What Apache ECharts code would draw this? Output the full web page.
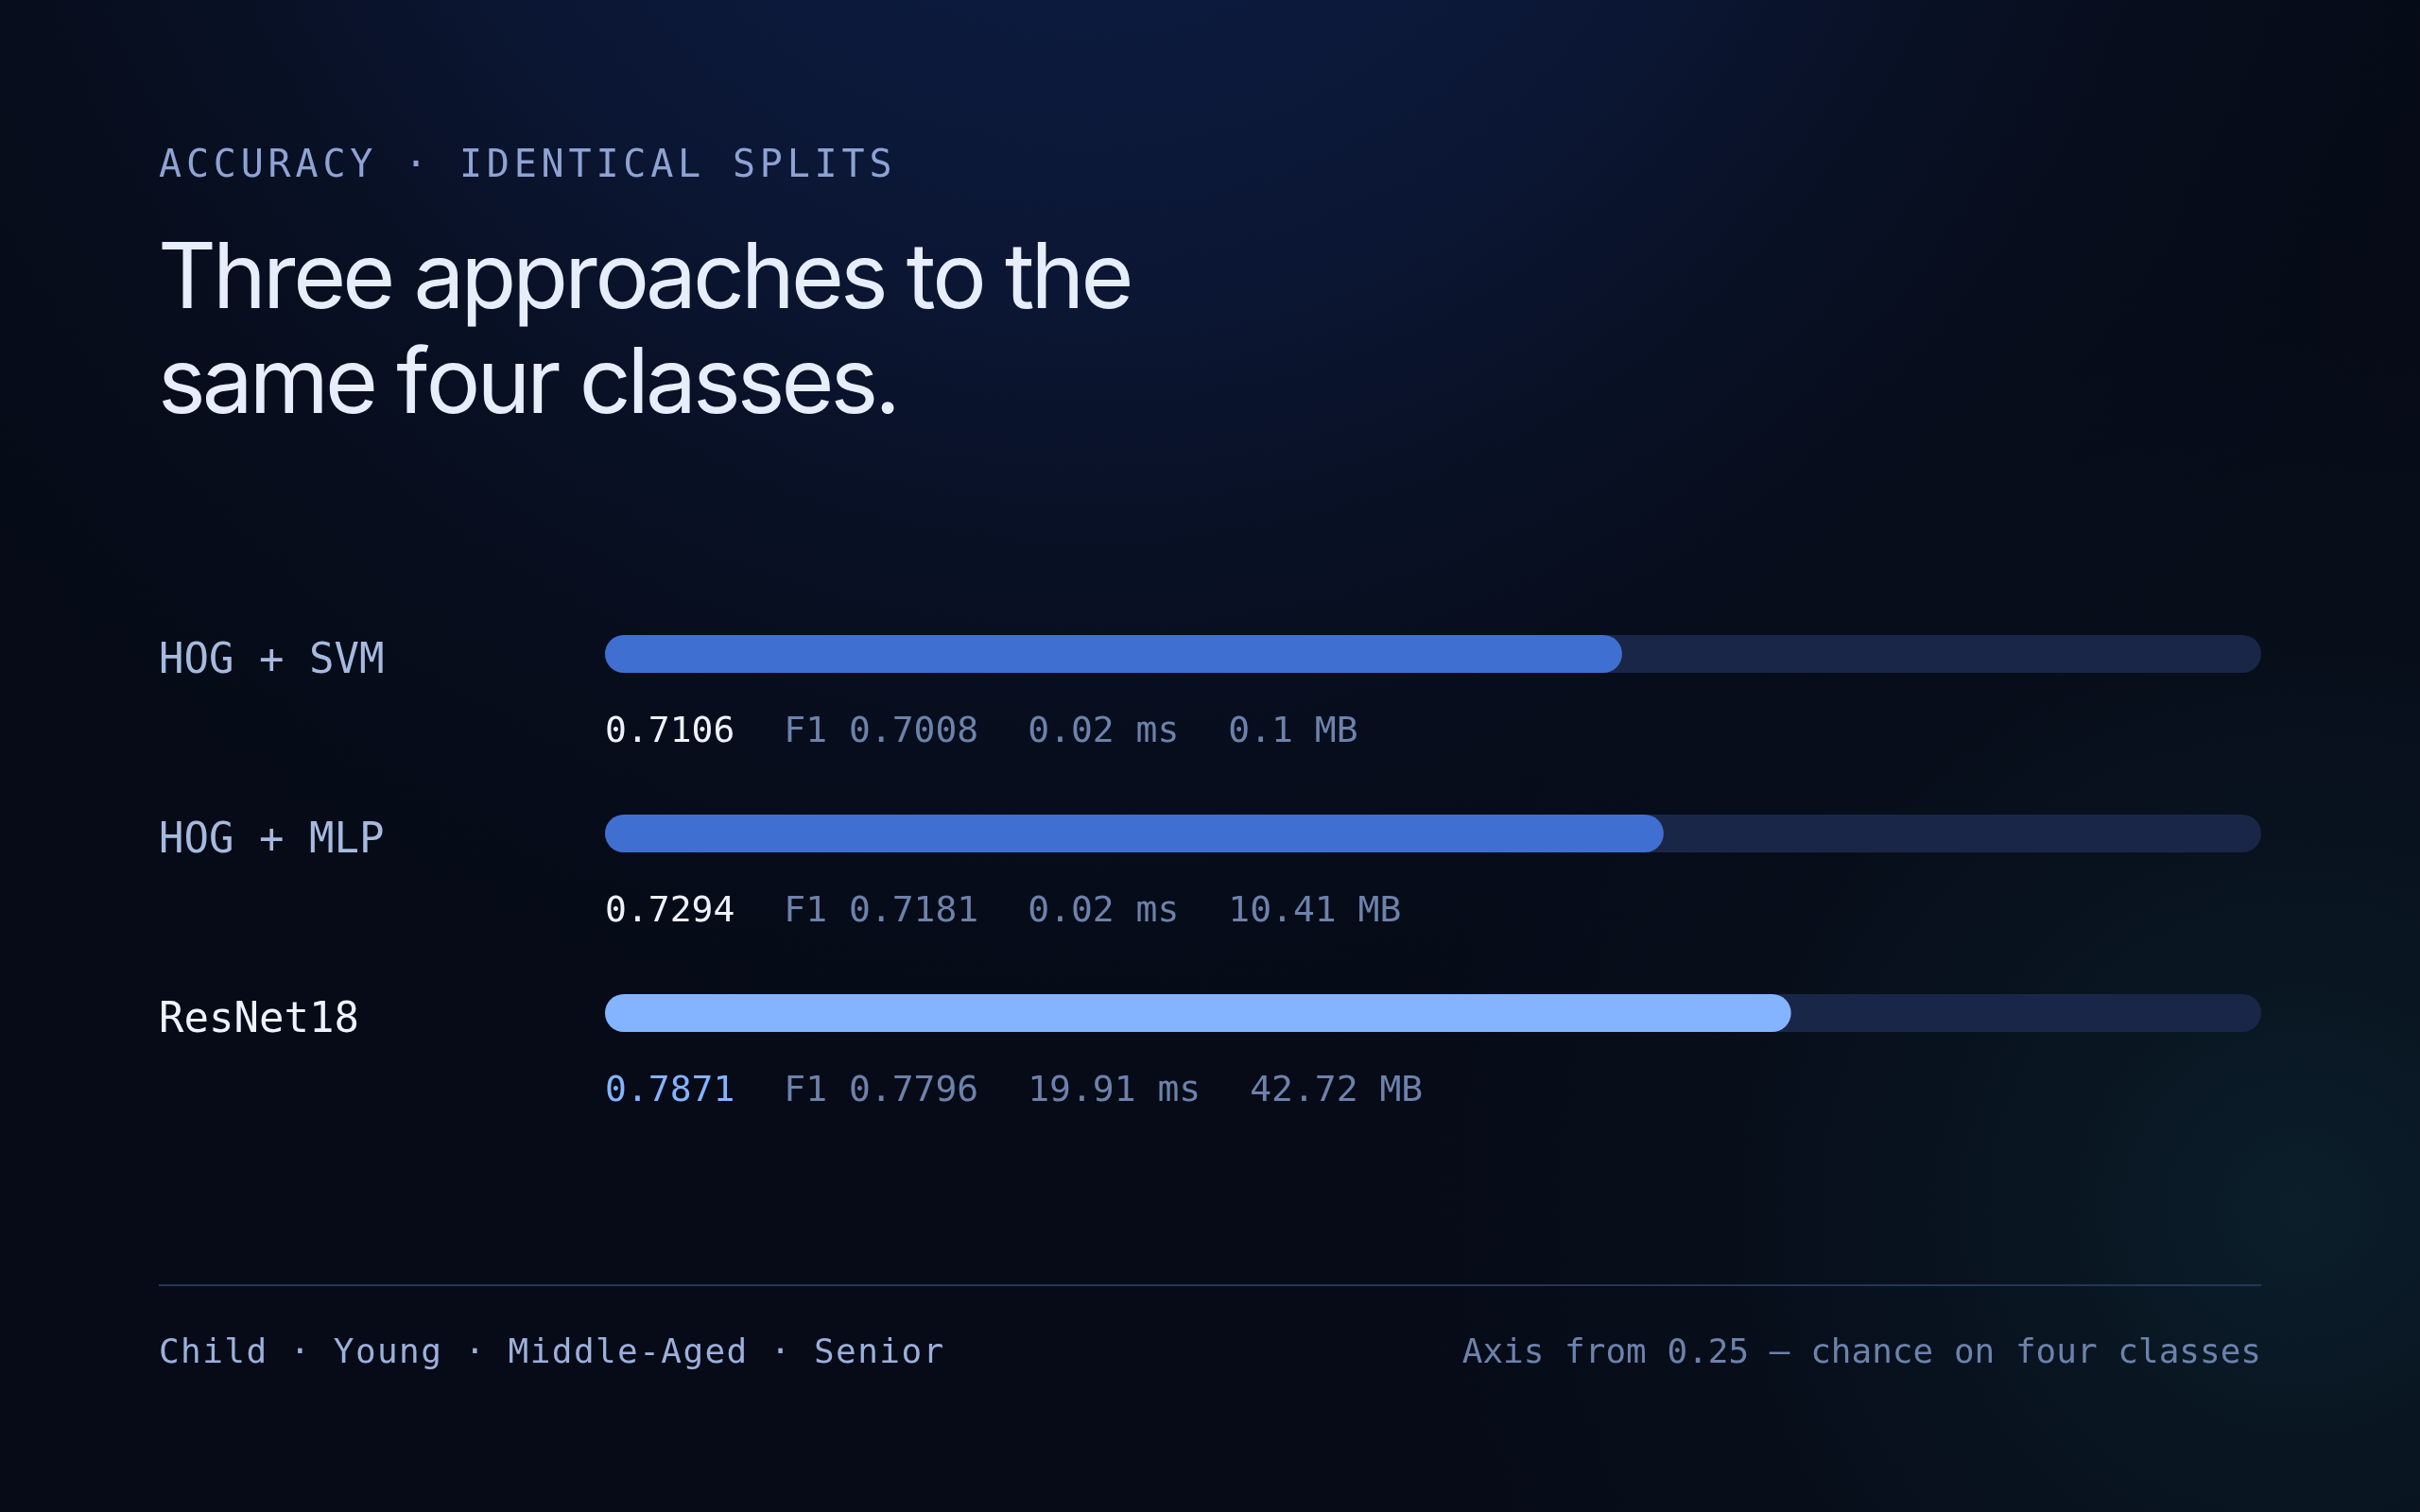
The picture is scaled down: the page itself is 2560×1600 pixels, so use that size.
<!DOCTYPE html>
<html><head><meta charset="utf-8">
<script src="https://cdn.jsdelivr.net/npm/echarts@6/dist/echarts.min.js"></script>
<style>html,body{margin:0;padding:0;background:#060b17;overflow:hidden}#c{width:2560px;height:1600px;}</style>
</head><body><div id="c"></div>
<script>
// ---- data ----
const models = ['HOG + SVM', 'HOG + MLP', 'ResNet18'];
const accuracy = [0.7106, 0.7294, 0.7871];
const f1 = [0.7008, 0.7181, 0.7796];
const latencyMs = [0.02, 0.02, 19.91];
const sizeMB = [0.1, 10.41, 42.72];
const classes = ['Child', 'Young', 'Middle-Aged', 'Senior'];
const axisMin = 0.25, axisMax = 1.0;
const eyebrow = 'ACCURACY · IDENTICAL SPLITS';
const titleLines = ['Three approaches to the', 'same four classes.'];
const footnote = 'Axis from 0.25 — chance on four classes';

// ---- build ----
const MONO = 'DejaVu Sans Mono';
const best = accuracy.indexOf(Math.max.apply(null, accuracy));
function spaced(str, style) {
  return str.split('').map(ch => '{' + style + '|' + ch + '}').join('');
}
// tight-tracked proportional text: one rich token per glyph
const mctx = document.createElement('canvas').getContext('2d');
function tracked(lines, font, size, weight, color, track) {
  mctx.font = weight + ' ' + size + 'px ' + font;
  const rich = {};
  const keys = {};
  let n = 0;
  const texts = lines.map(line => line.split('').map(ch => {
    if (!(ch in keys)) {
      const k = 't' + (n++);
      keys[ch] = k;
      rich[k] = {fontFamily: font, fontSize: size, fontWeight: weight, fill: color, color: color,
        width: mctx.measureText(ch).width + track};
    }
    return '{' + keys[ch] + '|' + ch + '}';
  }).join(''));
  return {texts, rich};
}
const T = tracked(titleLines, 'Inter', 96, 400, '#e6edfb', -3.9);

const chart = echarts.init(document.getElementById('c'), null, {renderer: 'canvas'});
const option = {
  backgroundColor: '#060b17',
  animation: false,
  grid: {left: 640, right: 168, top: 597, height: 570, containLabel: false},
  xAxis: {type: 'value', min: axisMin, max: axisMax, show: false},
  yAxis: {
    type: 'category', data: models, inverse: true,
    axisLine: {show: false}, axisTick: {show: false}, splitLine: {show: false},
    axisLabel: {
      margin: 472, align: 'left', verticalAlign: 'middle',
      formatter: (v, i) => (i === best ? '{hi|' : '{lo|') + v + '}',
      rich: {
        hi: {fontFamily: MONO, fontSize: 44, color: '#eef3ff', padding: [17, 0, 0, 0]},
        lo: {fontFamily: MONO, fontSize: 44, color: '#a6badf', padding: [17, 0, 0, 0]}
      }
    }
  },
  series: [{
    type: 'bar', silent: true,
    data: accuracy.map((v, i) => ({value: v, itemStyle: {color: i === best ? '#84b4ff' : '#3f6fd1'}})),
    barWidth: 40,
    showBackground: true,
    backgroundStyle: {color: '#1a2648', borderRadius: 20},
    itemStyle: {borderRadius: 20},
    label: {
      show: true, position: [0, 103], align: 'left', verticalAlign: 'middle',
      formatter: p => {
        const i = p.dataIndex;
        return (i === best ? '{acchi|' : '{acc|') + String(accuracy[i]) + '}{g| }' +
          '{m|F1 ' + String(f1[i]) + '}{g| }' +
          '{m|' + String(latencyMs[i]) + ' ms}{g| }' +
          '{m|' + String(sizeMB[i]) + ' MB}';
      },
      rich: {
        acc: {fontFamily: MONO, fontSize: 38, color: '#eef3ff'},
        acchi: {fontFamily: MONO, fontSize: 38, color: '#84b4ff'},
        m: {fontFamily: MONO, fontSize: 38, color: '#6d82ab'},
        g: {fontFamily: MONO, fontSize: 38, width: 52}
      }
    }
  }],
  graphic: [
    {type: 'rect', z: -10, silent: true, shape: {x: 0, y: 0, width: 2560, height: 1600},
      style: {fill: {type: 'radial', x: 0.45, y: -0.25, r: 1.0, colorStops: [
        {offset: 0, color: 'rgba(15,32,76,1)'}, {offset: 0.45, color: 'rgba(12,25,58,0.8)'}, {offset: 1, color: 'rgba(6,11,23,0)'}]}}},
    {type: 'rect', z: -9, silent: true, shape: {x: 0, y: 0, width: 2560, height: 1600},
      style: {fill: {type: 'radial', x: 0.95, y: 0.8, r: 0.65, colorStops: [
        {offset: 0, color: 'rgba(12,34,46,0.85)'}, {offset: 1, color: 'rgba(6,11,23,0)'}]}}},
    {type: 'text', x: 168, y: 177, silent: true,
      style: {text: spaced(eyebrow, 'c'), verticalAlign: 'middle', align: 'left',
        rich: {c: {fontFamily: MONO, fontSize: 40, width: 28.9, fill: '#8ea3d4', color: '#8ea3d4'}}}},
    {type: 'text', x: 167, y: 297, silent: true,
      style: {text: T.texts[0], rich: T.rich, verticalAlign: 'middle', align: 'left'}},
    {type: 'text', x: 167, y: 408, silent: true,
      style: {text: T.texts[1], rich: T.rich, verticalAlign: 'middle', align: 'left'}},
    {type: 'line', silent: true, shape: {x1: 168, y1: 1360, x2: 2392, y2: 1360},
      style: {stroke: '#25355a', lineWidth: 2}},
    {type: 'text', x: 168, y: 1433, silent: true,
      style: {text: spaced(classes.join(' · '), 'c'), verticalAlign: 'middle', align: 'left',
        rich: {c: {fontFamily: MONO, fontSize: 36, width: 23.1, fill: '#9cb0dc', color: '#9cb0dc'}}}},
    {type: 'text', x: 2392, y: 1433, silent: true,
      style: {text: footnote, fontFamily: MONO, fontSize: 36, fill: '#6d82ab', align: 'right', verticalAlign: 'middle'}}
  ]
};
chart.setOption(option);
</script>
</body></html>
